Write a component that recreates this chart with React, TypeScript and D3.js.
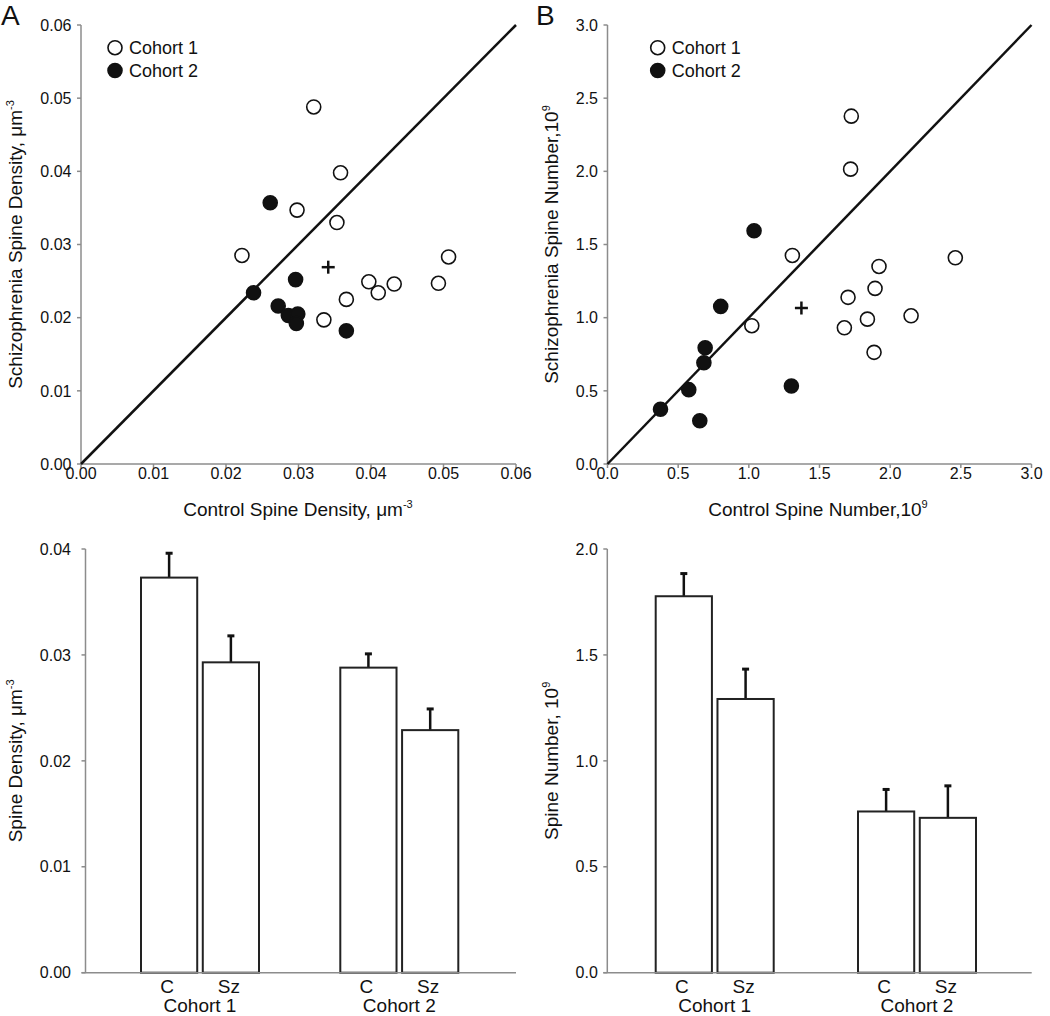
import React from "react";
import * as d3 from "d3";

// ---------- Data ----------
// Panel A scatter: spine density (µm^-3)
const densityCohort1Control = [0.0321, 0.0358, 0.0298, 0.0353, 0.0222, 0.0507, 0.0397, 0.0432, 0.0493, 0.041, 0.0366, 0.0335];
const densityCohort1Sz = [0.0488, 0.0398, 0.0347, 0.033, 0.0285, 0.0283, 0.0249, 0.0246, 0.0247, 0.0234, 0.0225, 0.0197];
const densityCohort2Control = [0.0261, 0.0296, 0.0238, 0.0272, 0.0286, 0.0299, 0.0297, 0.0366];
const densityCohort2Sz = [0.0357, 0.0252, 0.0234, 0.0216, 0.0203, 0.0205, 0.0192, 0.0182];
const densityMeanPoint = [0.0341, 0.0269];

// Panel B scatter: spine number (10^9)
const numberCohort1Control = [1.725, 1.72, 1.308, 2.461, 1.921, 1.893, 1.702, 2.148, 1.839, 1.676, 1.021, 1.886];
const numberCohort1Sz = [2.377, 2.015, 1.425, 1.409, 1.35, 1.2, 1.139, 1.013, 0.99, 0.931, 0.945, 0.763];
const numberCohort2Control = [1.037, 0.801, 0.691, 0.682, 0.575, 1.301, 0.375, 0.653];
const numberCohort2Sz = [1.594, 1.077, 0.794, 0.692, 0.508, 0.533, 0.374, 0.296];
const numberMeanPoint = [1.372, 1.066];

// Bar charts
const cohorts = ["Cohort 1", "Cohort 2"];
const groups = ["C", "Sz"];
const densityBarMeans = [0.0373, 0.0293, 0.0288, 0.0229];
const densityBarErr = [0.0023, 0.0025, 0.0013, 0.002];
const numberBarMeans = [1.777, 1.292, 0.761, 0.731];
const numberBarErr = [0.107, 0.141, 0.104, 0.151];

// Ticks
const densityScatterTicks = [0, 0.01, 0.02, 0.03, 0.04, 0.05, 0.06];
const numberScatterTicks = [0, 0.5, 1.0, 1.5, 2.0, 2.5, 3.0];
const densityBarTicks = [0, 0.01, 0.02, 0.03, 0.04];
const numberBarTicks = [0, 0.5, 1.0, 1.5, 2.0];

const FONT = "'Liberation Sans', Arial, Helvetica, sans-serif";
const AXIS = "#8c8c8c";
const INK = "#111";

type ScatterProps = {
  x0: number; x1: number; y0: number; y1: number;
  max: number; ticks: number[]; fmt: (v: number) => string;
  c1x: number[]; c1y: number[]; c2x: number[]; c2y: number[]; mean: number[];
  xTitle: string; xSup: string; xTitleX: number;
  yTitle: string; ySup: string; yTitleX: number;
  legendX: number; letter: string; letterX: number;
};

function Scatter(p: ScatterProps) {
  const x = d3.scaleLinear().domain([0, p.max]).range([p.x0, p.x1]);
  const y = d3.scaleLinear().domain([0, p.max]).range([p.y0, p.y1]);
  const line = d3.line<number>().x((d) => x(d)).y((d) => y(d));
  const r = 7;
  return (
    <g fontFamily={FONT}>
      <text x={p.letterX} y={25} fontSize={28} fill={INK}>{p.letter}</text>
      {/* axes */}
      <line x1={p.x0} x2={p.x0} y1={p.y0} y2={p.y1} stroke={AXIS} strokeWidth={1.5} />
      <line x1={p.x0} x2={p.x1} y1={p.y0} y2={p.y0} stroke={AXIS} strokeWidth={1.5} />
      {p.ticks.map((t) => (
        <g key={"y" + t}>
          <line x1={p.x0 - 4} x2={p.x0} y1={y(t)} y2={y(t)} stroke={AXIS} strokeWidth={1.5} />
          <text x={p.x0 - 9.5} y={y(t) + 5.7} fontSize={16} textAnchor="end" fill={INK}>{p.fmt(t)}</text>
        </g>
      ))}
      {p.ticks.map((t) => (
        <g key={"x" + t}>
          <line x1={x(t)} x2={x(t)} y1={p.y0} y2={p.y0 + 4} stroke={AXIS} strokeWidth={1.5} />
          <text x={x(t)} y={p.y0 + 14.5} fontSize={16} textAnchor="middle" fill={INK}>{p.fmt(t)}</text>
        </g>
      ))}
      {/* identity line */}
      <path d={line([0, p.max]) || ""} stroke={INK} strokeWidth={2.5} fill="none" />
      {/* points */}
      {p.c1x.map((v, i) => (
        <circle key={"o" + i} cx={x(v)} cy={y(p.c1y[i])} r={r} fill="#fff" stroke={INK} strokeWidth={1.6} />
      ))}
      {p.c2x.map((v, i) => (
        <circle key={"f" + i} cx={x(v)} cy={y(p.c2y[i])} r={r} fill={INK} stroke={INK} strokeWidth={1.6} />
      ))}
      {/* mean plus */}
      <g stroke={INK} strokeWidth={2.5}>
        <line x1={x(p.mean[0]) - 6.5} x2={x(p.mean[0]) + 6.5} y1={y(p.mean[1])} y2={y(p.mean[1])} />
        <line x1={x(p.mean[0])} x2={x(p.mean[0])} y1={y(p.mean[1]) - 6.5} y2={y(p.mean[1]) + 6.5} />
      </g>
      {/* legend */}
      <circle cx={p.legendX} cy={47.7} r={r} fill="#fff" stroke={INK} strokeWidth={1.6} />
      <text x={p.legendX + 14} y={54.2} fontSize={18} fill={INK}>Cohort 1</text>
      <circle cx={p.legendX} cy={70.5} r={r} fill={INK} stroke={INK} strokeWidth={1.6} />
      <text x={p.legendX + 14} y={77} fontSize={18} fill={INK}>Cohort 2</text>
      {/* titles */}
      <text x={p.xTitleX} y={516} fontSize={19} textAnchor="middle" fill={INK}>
        {p.xTitle}
        <tspan fontSize={11} dy={-8}>{p.xSup}</tspan>
      </text>
      <text transform={`translate(${p.yTitleX},${(p.y0 + p.y1) / 2}) rotate(-90)`} fontSize={19} textAnchor="middle" fill={INK}>
        {p.yTitle}
        <tspan fontSize={11} dy={-8}>{p.ySup}</tspan>
      </text>
    </g>
  );
}

type BarProps = {
  x0: number; x1: number; y0: number; y1: number; max: number;
  ticks: number[]; fmt: (v: number) => string; labelGap: number;
  means: number[]; errs: number[]; groupStart: number; groupEnd: number;
  yTitle: string; ySup: string; yTitleX: number;
};

function Bars(p: BarProps) {
  const y = d3.scaleLinear().domain([0, p.max]).range([p.y0, p.y1]);
  const cohortX = d3.scalePoint<string>().domain(cohorts).range([p.groupStart, p.groupEnd]);
  const inner = d3.scaleBand<string>().domain(groups).range([-59, 59]).paddingInner(0.09);
  return (
    <g fontFamily={FONT}>
      <line x1={p.x0} x2={p.x0} y1={p.y0} y2={p.y1} stroke={AXIS} strokeWidth={1.5} />
      {p.ticks.map((t) => (
        <g key={"y" + t}>
          <line x1={p.x0 - 4} x2={p.x0} y1={y(t)} y2={y(t)} stroke={AXIS} strokeWidth={1.5} />
          <text x={p.x0 - p.labelGap} y={y(t) + 5.7} fontSize={16} textAnchor="end" fill={INK}>{p.fmt(t)}</text>
        </g>
      ))}
      {cohorts.map((c, ci) =>
        groups.map((g, gi) => {
          const i = ci * 2 + gi;
          const left = (cohortX(c) as number) + (inner(g) as number);
          const w = inner.bandwidth();
          const cx = left + w / 2;
          const top = y(p.means[i]);
          const et = y(p.means[i] + p.errs[i]);
          return (
            <g key={c + g}>
              <line x1={cx} x2={cx} y1={top} y2={et} stroke={INK} strokeWidth={2.5} />
              <line x1={cx - 3.5} x2={cx + 3.5} y1={et} y2={et} stroke={INK} strokeWidth={3} />
              <rect x={left} y={top} width={w} height={p.y0 - top} fill="#fff" stroke="#222" strokeWidth={2} />
              <text x={cx - 2} y={993} fontSize={19} textAnchor="middle" fill={INK}>{g}</text>
            </g>
          );
        })
      )}
      <line x1={p.x0 - 4} x2={p.x1} y1={p.y0} y2={p.y0} stroke={AXIS} strokeWidth={1.5} />
      {cohorts.map((c) => (
        <text key={c} x={cohortX(c) as number} y={1012} fontSize={19} textAnchor="middle" fill={INK}>{c}</text>
      ))}
      <text transform={`translate(${p.yTitleX},${(p.y0 + p.y1) / 2}) rotate(-90)`} fontSize={19} textAnchor="middle" fill={INK}>
        {p.yTitle}
        <tspan fontSize={11} dy={-8}>{p.ySup}</tspan>
      </text>
    </g>
  );
}

export default function App() {
  const f2 = (v: number) => v.toFixed(2);
  const f1 = (v: number) => v.toFixed(1);
  return (
    <svg width={1050} height={1016} style={{ position: "absolute", left: 0, top: 0, background: "#fff" }}>
      <rect width={1050} height={1016} fill="#fff" />
      <Scatter
        x0={81} x1={516} y0={464} y1={25} max={0.06} ticks={densityScatterTicks} fmt={f2}
        c1x={densityCohort1Control} c1y={densityCohort1Sz} c2x={densityCohort2Control} c2y={densityCohort2Sz}
        mean={densityMeanPoint}
        xTitle="Control Spine Density, μm" xSup="-3" xTitleX={298}
        yTitle="Schizophrenia Spine Density, μm" ySup="-3" yTitleX={22}
        legendX={115} letter="A" letterX={1}
      />
      <Scatter
        x0={607.5} x1={1031.5} y0={464} y1={25} max={3.0} ticks={numberScatterTicks} fmt={f1}
        c1x={numberCohort1Control} c1y={numberCohort1Sz} c2x={numberCohort2Control} c2y={numberCohort2Sz}
        mean={numberMeanPoint}
        xTitle="Control Spine Number,10" xSup="9" xTitleX={818}
        yTitle="Schizophrenia Spine Number,10" ySup="9" yTitleX={558}
        legendX={657.7} letter="B" letterX={536}
      />
      <Bars
        x0={85.5} x1={516} y0={972.7} y1={549} max={0.04} ticks={densityBarTicks} fmt={f2} labelGap={14.5}
        means={densityBarMeans} errs={densityBarErr} groupStart={200} groupEnd={399.3}
        yTitle="Spine Density, μm" ySup="-3" yTitleX={22}
      />
      <Bars
        x0={607.3} x1={1031.7} y0={972.7} y1={549} max={2.0} ticks={numberBarTicks} fmt={f1} labelGap={9.5}
        means={numberBarMeans} errs={numberBarErr} groupStart={714.7} groupEnd={917}
        yTitle="Spine Number, 10" ySup="9" yTitleX={558}
      />
    </svg>
  );
}
